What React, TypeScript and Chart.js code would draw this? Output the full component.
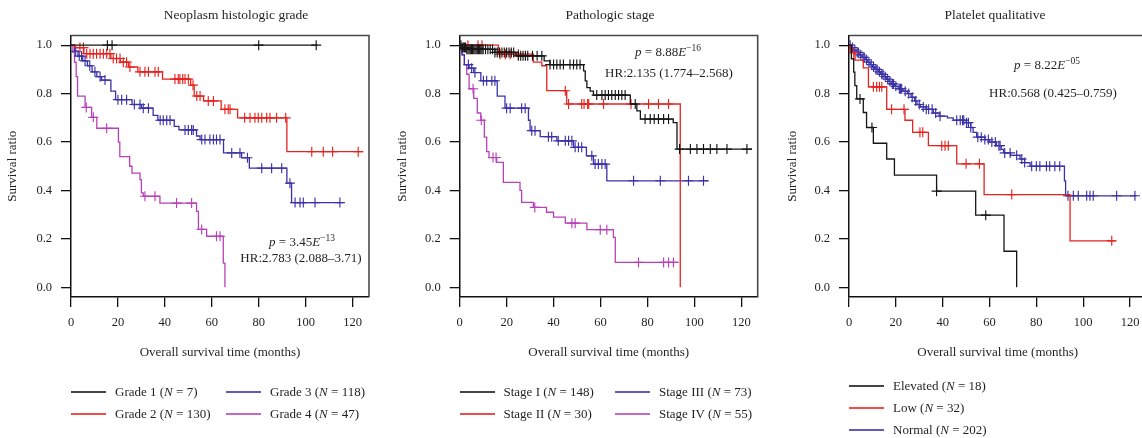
import React, { useEffect, useRef } from 'react';
import { Chart, registerables } from 'chart.js';

Chart.register(...registerables);

const FONT = "'Liberation Serif', 'Times New Roman', serif";
const TEXT = '#231f20';
const BLACK = '#151515';
const RED = '#e6231f';
const BLUE = '#3b32a6';
const MAGENTA = '#b840b8';
const H = 438;

// ---------------- shared axes ----------------
const xTicks = [0, 20, 40, 60, 80, 100, 120];
const yTicks = [0, 0.2, 0.4, 0.6, 0.8, 1.0];

// ---------------- Panel 1: Neoplasm histologic grade ----------------
const grade1Times = [0];
const grade1Surv = [1];
const grade1End = 105;
const grade1Censor = [15.5, 17.5, 80, 104.5];

const grade2Times = [0, 1.5, 5.5, 17, 21, 24.5, 28.5, 39, 51, 52.5, 56.5, 64, 71, 92];
const grade2Surv = [1, 0.99, 0.965, 0.945, 0.93, 0.91, 0.89, 0.86, 0.835, 0.79, 0.77, 0.735, 0.70, 0.56];
const grade2End = 124.5;
const grade2Censor = [3.8, 5.3, 6.7, 8.1, 9.5, 10.9, 12.4, 13.8, 15.2, 16.6, 18, 19.4, 20.9, 22.3, 23.7, 25.1, 29.4, 31.5, 33, 35.8, 37.2, 44.3, 45.7, 46.4, 47.6, 48.6, 50, 52, 53.6, 55, 58.5, 60.7, 65.6, 67, 67.8, 74, 76.3, 78.4, 79.8, 81.3, 83.4, 84.8, 87.6, 91.5, 102.6, 107.5, 111.5, 122.4];

const grade3Times = [0, 1.5, 3, 5, 7, 9, 11, 13, 17, 19, 26, 30, 35, 37, 44, 46, 53.5, 55, 65, 72.7, 76, 92, 94];
const grade3Surv = [1, 0.975, 0.955, 0.935, 0.915, 0.89, 0.87, 0.856, 0.81, 0.775, 0.755, 0.74, 0.71, 0.69, 0.665, 0.65, 0.625, 0.61, 0.555, 0.535, 0.492, 0.43, 0.35];
const grade3End = 116;
const grade3Censor = [2, 3.5, 4.5, 6, 8, 10.2, 12.4, 14.5, 20, 21.6, 23.7, 27, 29.4, 30.8, 33, 38, 39.3, 40.8, 42.2, 48.6, 50, 51.4, 52.1, 55.7, 57.1, 59.2, 60.7, 62, 63.5, 68.5, 72, 75.2, 81.3, 85.5, 89.8, 93.3, 95.5, 97.6, 99, 104, 114.6];

const grade4Times = [0, 0.8, 1.5, 2.2, 2.8, 6, 8.8, 11, 20.2, 20.8, 25, 26, 29.4, 30, 30.8, 37.9, 53.5, 54.3, 57.8, 64.9, 65.6];
const grade4Surv = [1, 0.97, 0.93, 0.87, 0.79, 0.743, 0.702, 0.657, 0.6, 0.54, 0.5, 0.472, 0.445, 0.39, 0.376, 0.348, 0.314, 0.239, 0.211, 0.10, 0.0];
const grade4End = 65.6;
const grade4Censor = [6.5, 9.5, 15.2, 31.5, 35.8, 45, 51.4, 55.7, 62, 63.5];

// ---------------- Panel 2: Pathologic stage ----------------
const stage1Times = [0, 1, 3, 15, 24, 36, 38.5, 52.8, 53.5, 54.2, 55.6, 57, 72.7, 75.5, 77, 91, 92.6];
const stage1Surv = [1, 0.99, 0.983, 0.97, 0.956, 0.935, 0.92, 0.894, 0.853, 0.825, 0.81, 0.794, 0.757, 0.729, 0.695, 0.68, 0.571];
const stage1End = 124.6;
const stage1Censor = [0.5, 1, 1.5, 2, 2.5, 3, 3.5, 4, 4.5, 5, 5.5, 6, 6.5, 7, 7.5, 8, 8.5, 9, 9.5, 10, 11, 12, 13, 14, 15, 16, 17, 18, 19, 20, 21, 22, 23, 25, 26, 27, 28, 29, 31, 33, 35, 38.5, 40, 41.4, 42.8, 44.2, 47, 48.5, 49.9, 51.3, 58.4, 60.6, 62, 63.4, 64.8, 66.3, 67.7, 69.1, 70.5, 74.8, 79, 81.2, 82.9, 84.7, 86.9, 89, 93.7, 98.3, 101.1, 103.9, 106.8, 109.6, 113.9, 122.4];

const stage2Times = [0, 16.5, 31.4, 35, 37.1, 45.6, 94];
const stage2Surv = [1, 0.963, 0.93, 0.915, 0.812, 0.757, 0];
const stage2End = 94;
const stage2Censor = [3.5, 7.8, 9.5, 17.2, 19.5, 21.5, 25, 45, 46.4, 52, 53, 54.5, 55, 61.3, 73, 80.5, 84.7, 89];

const stage3Times = [0, 1, 2, 4, 6, 9, 16, 19.3, 29.3, 30, 34.3, 41.4, 48.5, 54, 57, 62.7];
const stage3Surv = [1, 0.96, 0.92, 0.905, 0.887, 0.853, 0.79, 0.74, 0.69, 0.647, 0.622, 0.605, 0.578, 0.543, 0.509, 0.44];
const stage3End = 106;
const stage3Censor = [3.7, 5.1, 6.5, 10.1, 11.5, 13.7, 15, 20, 21.5, 26.4, 27.9, 30.7, 32.1, 37.8, 39.2, 42, 45, 46.4, 47.8, 49.2, 50.6, 52, 56.3, 57.7, 59.1, 60.6, 62, 74.1, 85.5, 97.5, 103.9];

const stage4Times = [0, 1, 2, 3, 4, 6, 7.5, 9, 10.5, 11.5, 12.5, 15.8, 18.6, 25.7, 26.4, 31.4, 37, 40, 45, 54.2, 65.5, 66.3];
const stage4Surv = [1, 0.96, 0.92, 0.88, 0.82, 0.78, 0.72, 0.69, 0.62, 0.56, 0.536, 0.516, 0.433, 0.40, 0.351, 0.33, 0.31, 0.29, 0.265, 0.238, 0.206, 0.103];
const stage4End = 93.3;
const stage4Censor = [5.7, 9.2, 14.2, 15.5, 32, 47.8, 49.2, 59.9, 62.7, 76.2, 86.9, 89, 91.1];

// ---------------- Panel 3: Platelet qualitative ----------------
const elevatedTimes = [0, 1, 2, 2.5, 3.3, 6.1, 7.5, 10.4, 16.1, 19.4, 37.4, 54.1, 66.2, 71.6];
const elevatedSurv = [1, 0.944, 0.889, 0.833, 0.778, 0.722, 0.66, 0.595, 0.53, 0.463, 0.397, 0.298, 0.149, 0];
const elevatedEnd = 71.6;
const elevatedCensor = [4.7, 9.8, 37.4, 58.4];

const lowTimes = [0, 0.5, 2.6, 6.1, 8.3, 16.1, 23.9, 27.2, 33.9, 46, 57.7, 94.4];
const lowSurv = [1, 0.969, 0.938, 0.906, 0.828, 0.735, 0.69, 0.64, 0.585, 0.51, 0.383, 0.192];
const lowEnd = 113.6;
const lowCensor = [2, 10.4, 11.8, 13, 14, 18.2, 23.5, 30.3, 31.5, 39.6, 41, 42.4, 50, 55.7, 69.5, 112.2];

const normalTimes = [0, 1, 2, 3, 4.5, 5.5, 7, 8, 9, 10, 11, 12.5, 13.5, 15, 16, 17, 18, 19.5, 21, 23, 25, 26.5, 28, 29, 30.5, 33, 36, 38.5, 42, 44.5, 50, 52, 53, 54.5, 58, 60, 63, 65, 66, 69, 73, 75, 77.3, 92, 92.5];
const normalSurv = [1, 0.99, 0.98, 0.97, 0.96, 0.95, 0.94, 0.93, 0.92, 0.91, 0.90, 0.89, 0.88, 0.87, 0.86, 0.85, 0.84, 0.83, 0.82, 0.81, 0.80, 0.785, 0.77, 0.755, 0.745, 0.735, 0.72, 0.707, 0.70, 0.69, 0.68, 0.66, 0.64, 0.62, 0.61, 0.60, 0.585, 0.57, 0.555, 0.545, 0.53, 0.515, 0.50, 0.44, 0.378];
const normalEnd = 122.8;
const normalCensor = [0.5, 1.5, 2.5, 3.5, 4, 5, 6, 6.5, 7.5, 8.5, 9.5, 10.5, 11.5, 12, 13, 14, 14.5, 15.5, 16.5, 17.5, 18.5, 19, 20, 21.5, 22, 22.5, 24, 25.5, 27, 28.5, 30, 31.7, 33, 34, 35.5, 37, 38.9, 46, 47.5, 48.5, 49, 50.2, 51, 52, 55, 56.5, 58, 59.5, 61, 62.5, 64, 64.5, 66.5, 68.8, 71.6, 73.8, 75, 78, 80, 81.5, 84.3, 85.7, 87.9, 90, 93.5, 95.8, 97.9, 101.5, 102.9, 104.3, 114.3, 122.1];

// ---------------- types / helpers ----------------
type Curve = { name: string; n: number; color: string; times: number[]; surv: number[]; end: number; censor: number[] };
type LegendPos = { idx: number; x: number; y: number };
type Note = { x: number; y: number; node: React.ReactNode };
type PanelSpec = {
  title: string;
  curves: Curve[];
  canvasLeft: number;
  canvasW: number;
  yAxisW: number;
  rightGap: number;
  legend: LegendPos[];
  notes: Note[];
};

function stepPoints(c: Curve) {
  const pts = c.times.map((t, i) => ({ x: t, y: c.surv[i] }));
  const lastT = c.times[c.times.length - 1];
  if (c.end > lastT) pts.push({ x: c.end, y: c.surv[c.surv.length - 1] });
  return pts;
}

function survAt(c: Curve, t: number) {
  let s = 1;
  for (let i = 0; i < c.times.length; i++) if (c.times[i] <= t) s = c.surv[i];
  return s;
}

const framePlugin = {
  id: 'kmFrame',
  beforeDatasetsDraw(chart: any) {
    const { ctx, chartArea: a } = chart;
    ctx.save();
    ctx.strokeStyle = '#4a4a4a';
    ctx.lineWidth = 1.6;
    ctx.beginPath();
    ctx.moveTo(a.left, a.top);
    ctx.lineTo(a.right, a.top);
    ctx.lineTo(a.right, a.bottom);
    ctx.stroke();
    ctx.restore();
  },
};

const sup = (t: string) => <span style={{ fontSize: 9.5, position: 'relative', top: -5 }}>{t}</span>;

const panels: PanelSpec[] = [
  {
    title: 'Neoplasm histologic grade',
    curves: [
      { name: 'Grade 1', n: 7, color: BLACK, times: grade1Times, surv: grade1Surv, end: grade1End, censor: grade1Censor },
      { name: 'Grade 2', n: 130, color: RED, times: grade2Times, surv: grade2Surv, end: grade2End, censor: grade2Censor },
      { name: 'Grade 3', n: 118, color: BLUE, times: grade3Times, surv: grade3Surv, end: grade3End, censor: grade3Censor },
      { name: 'Grade 4', n: 47, color: MAGENTA, times: grade4Times, surv: grade4Surv, end: grade4End, censor: grade4Censor },
    ],
    canvasLeft: 0,
    canvasW: 472,
    yAxisW: 71,
    rightGap: 103,
    legend: [
      { idx: 0, x: 71, y: 392 },
      { idx: 1, x: 71, y: 414 },
      { idx: 2, x: 226, y: 392 },
      { idx: 3, x: 226, y: 414 },
    ],
    notes: [
      { x: 302, y: 242, node: <><i>p</i> = 3.45<i>E</i>{sup('−13')}</> },
      { x: 301, y: 258, node: <>HR:2.783 (2.088–3.71)</> },
    ],
  },
  {
    title: 'Pathologic stage',
    curves: [
      { name: 'Stage I', n: 148, color: BLACK, times: stage1Times, surv: stage1Surv, end: stage1End, censor: stage1Censor },
      { name: 'Stage II', n: 30, color: RED, times: stage2Times, surv: stage2Surv, end: stage2End, censor: stage2Censor },
      { name: 'Stage III', n: 73, color: BLUE, times: stage3Times, surv: stage3Surv, end: stage3End, censor: stage3Censor },
      { name: 'Stage IV', n: 55, color: MAGENTA, times: stage4Times, surv: stage4Surv, end: stage4End, censor: stage4Censor },
    ],
    canvasLeft: 390,
    canvasW: 440,
    yAxisW: 69.7,
    rightGap: 72.3,
    legend: [
      { idx: 0, x: 459.5, y: 392 },
      { idx: 1, x: 459.5, y: 414 },
      { idx: 2, x: 615, y: 392 },
      { idx: 3, x: 615, y: 414 },
    ],
    notes: [
      { x: 668, y: 52, node: <><i>p</i> = 8.88<i>E</i>{sup('−16')}</> },
      { x: 669, y: 73, node: <>HR:2.135 (1.774–2.568)</> },
    ],
  },
  {
    title: 'Platelet qualitative',
    curves: [
      { name: 'Elevated', n: 18, color: BLACK, times: elevatedTimes, surv: elevatedSurv, end: elevatedEnd, censor: elevatedCensor },
      { name: 'Low', n: 32, color: RED, times: lowTimes, surv: lowSurv, end: lowEnd, censor: lowCensor },
      { name: 'Normal', n: 202, color: BLUE, times: normalTimes, surv: normalSurv, end: normalEnd, censor: normalCensor },
    ],
    canvasLeft: 780,
    canvasW: 430,
    yAxisW: 69,
    rightGap: 63.6,
    legend: [
      { idx: 0, x: 849, y: 386 },
      { idx: 1, x: 849, y: 408 },
      { idx: 2, x: 849, y: 430 },
    ],
    notes: [
      { x: 1047, y: 65, node: <><i>p</i> = 8.22<i>E</i>{sup('−05')}</> },
      { x: 1053, y: 93, node: <>HR:0.568 (0.425–0.759)</> },
    ],
  },
];

function KMPanel({ p }: { p: PanelSpec }) {
  const ref = useRef<HTMLCanvasElement | null>(null);
  useEffect(() => {
    const canvas = ref.current;
    if (!canvas) return;
    const datasets: any[] = [];
    p.curves.forEach((c) => {
      datasets.push({
        type: 'line',
        label: c.name,
        data: stepPoints(c),
        borderColor: c.color,
        backgroundColor: c.color,
        borderWidth: 1.3,
        pointRadius: 0,
        stepped: 'before',
        fill: false,
        tension: 0,
      });
      datasets.push({
        type: 'scatter',
        label: c.name + ' censored',
        data: c.censor.map((t) => ({ x: t, y: survAt(c, t) })),
        borderColor: c.color,
        backgroundColor: c.color,
        pointStyle: 'cross',
        pointRadius: 5,
        pointBorderWidth: 1.15,
        showLine: false,
      });
    });
    const tickFont = { family: FONT, size: 12.5 };
    const titleFont = { family: FONT, size: 13, weight: 'normal' as const };
    const chart = new Chart(canvas, {
      type: 'line',
      data: { datasets },
      plugins: [framePlugin],
      options: {
        animation: false,
        responsive: false,
        maintainAspectRatio: false,
        events: [],
        layout: { padding: { left: 0, right: 0, top: 0, bottom: 70 } },
        plugins: {
          legend: { display: false },
          tooltip: { enabled: false },
          title: {
            display: true,
            text: p.title,
            color: TEXT,
            font: { family: FONT, size: 13.5, weight: 'normal' },
            padding: { top: 6.9, bottom: 12.4 },
          },
        },
        scales: {
          x: {
            type: 'linear',
            min: 0,
            max: 127,
            afterBuildTicks: (s: any) => {
              s.ticks = xTicks.map((v) => ({ value: v }));
            },
            afterFit: (s: any) => {
              s.height = H - 70 - 297;
            },
            ticks: { font: tickFont, color: TEXT, padding: 8, maxRotation: 0, autoSkip: false },
            grid: { display: true, drawOnChartArea: false, drawTicks: true, tickLength: 10, color: '#111', lineWidth: 1.3 },
            border: { display: true, color: '#111', width: 1.5 },
            title: { display: true, text: 'Overall survival time (months)', color: TEXT, font: titleFont, padding: { top: 0, bottom: 7.2 } },
          },
          y: {
            type: 'linear',
            min: -0.04,
            max: 1.04,
            afterBuildTicks: (s: any) => {
              s.ticks = yTicks.map((v) => ({ value: v }));
            },
            afterFit: (s: any) => {
              s.width = p.yAxisW;
            },
            ticks: { font: tickFont, color: TEXT, padding: 9, callback: (v: any) => Number(v).toFixed(1) },
            grid: { display: true, drawOnChartArea: false, drawTicks: true, tickLength: 10, color: '#111', lineWidth: 1.3 },
            border: { display: true, color: '#111', width: 1.5 },
            title: { display: true, text: 'Survival ratio', color: TEXT, font: titleFont, padding: { top: 5.2, bottom: 0 } },
          },
          gap: {
            type: 'linear',
            position: 'right',
            display: true,
            ticks: { display: false },
            grid: { display: false },
            border: { display: false },
            afterFit: (s: any) => {
              s.width = p.rightGap;
            },
          },
        },
      } as any,
    });
    return () => chart.destroy();
  }, [p]);
  return (
    <canvas
      ref={ref}
      width={p.canvasW}
      height={H}
      style={{ position: 'absolute', left: p.canvasLeft, top: 0, width: p.canvasW, height: H }}
    />
  );
}

function Legend({ p }: { p: PanelSpec }) {
  return (
    <>
      {p.legend.map((l) => {
        const c = p.curves[l.idx];
        return (
          <div key={c.name} style={{ position: 'absolute', left: l.x, top: l.y - 10, height: 20, display: 'flex', alignItems: 'center', whiteSpace: 'nowrap' }}>
            <div style={{ width: 35, height: 2, background: c.color, opacity: 0.8 }} />
            <span style={{ marginLeft: 9, font: `13px ${FONT}`, color: TEXT }}>
              {c.name} (<i>N</i> = {c.n})
            </span>
          </div>
        );
      })}
    </>
  );
}

function Notes({ p }: { p: PanelSpec }) {
  return (
    <>
      {p.notes.map((n, i) => (
        <div
          key={i}
          style={{
            position: 'absolute',
            left: n.x,
            top: n.y,
            transform: 'translate(-50%, -50%)',
            whiteSpace: 'nowrap',
            font: `13px ${FONT}`,
            color: TEXT,
            lineHeight: '16px',
          }}
        >
          {n.node}
        </div>
      ))}
    </>
  );
}

export default function App() {
  return (
    <div style={{ position: 'absolute', left: 0, top: 0, width: 1142, height: H, overflow: 'hidden', background: '#fff' }}>
      {panels.map((p) => (
        <KMPanel key={p.title} p={p} />
      ))}
      {panels.map((p) => (
        <React.Fragment key={p.title + '-overlay'}>
          <Legend p={p} />
          <Notes p={p} />
        </React.Fragment>
      ))}
    </div>
  );
}
